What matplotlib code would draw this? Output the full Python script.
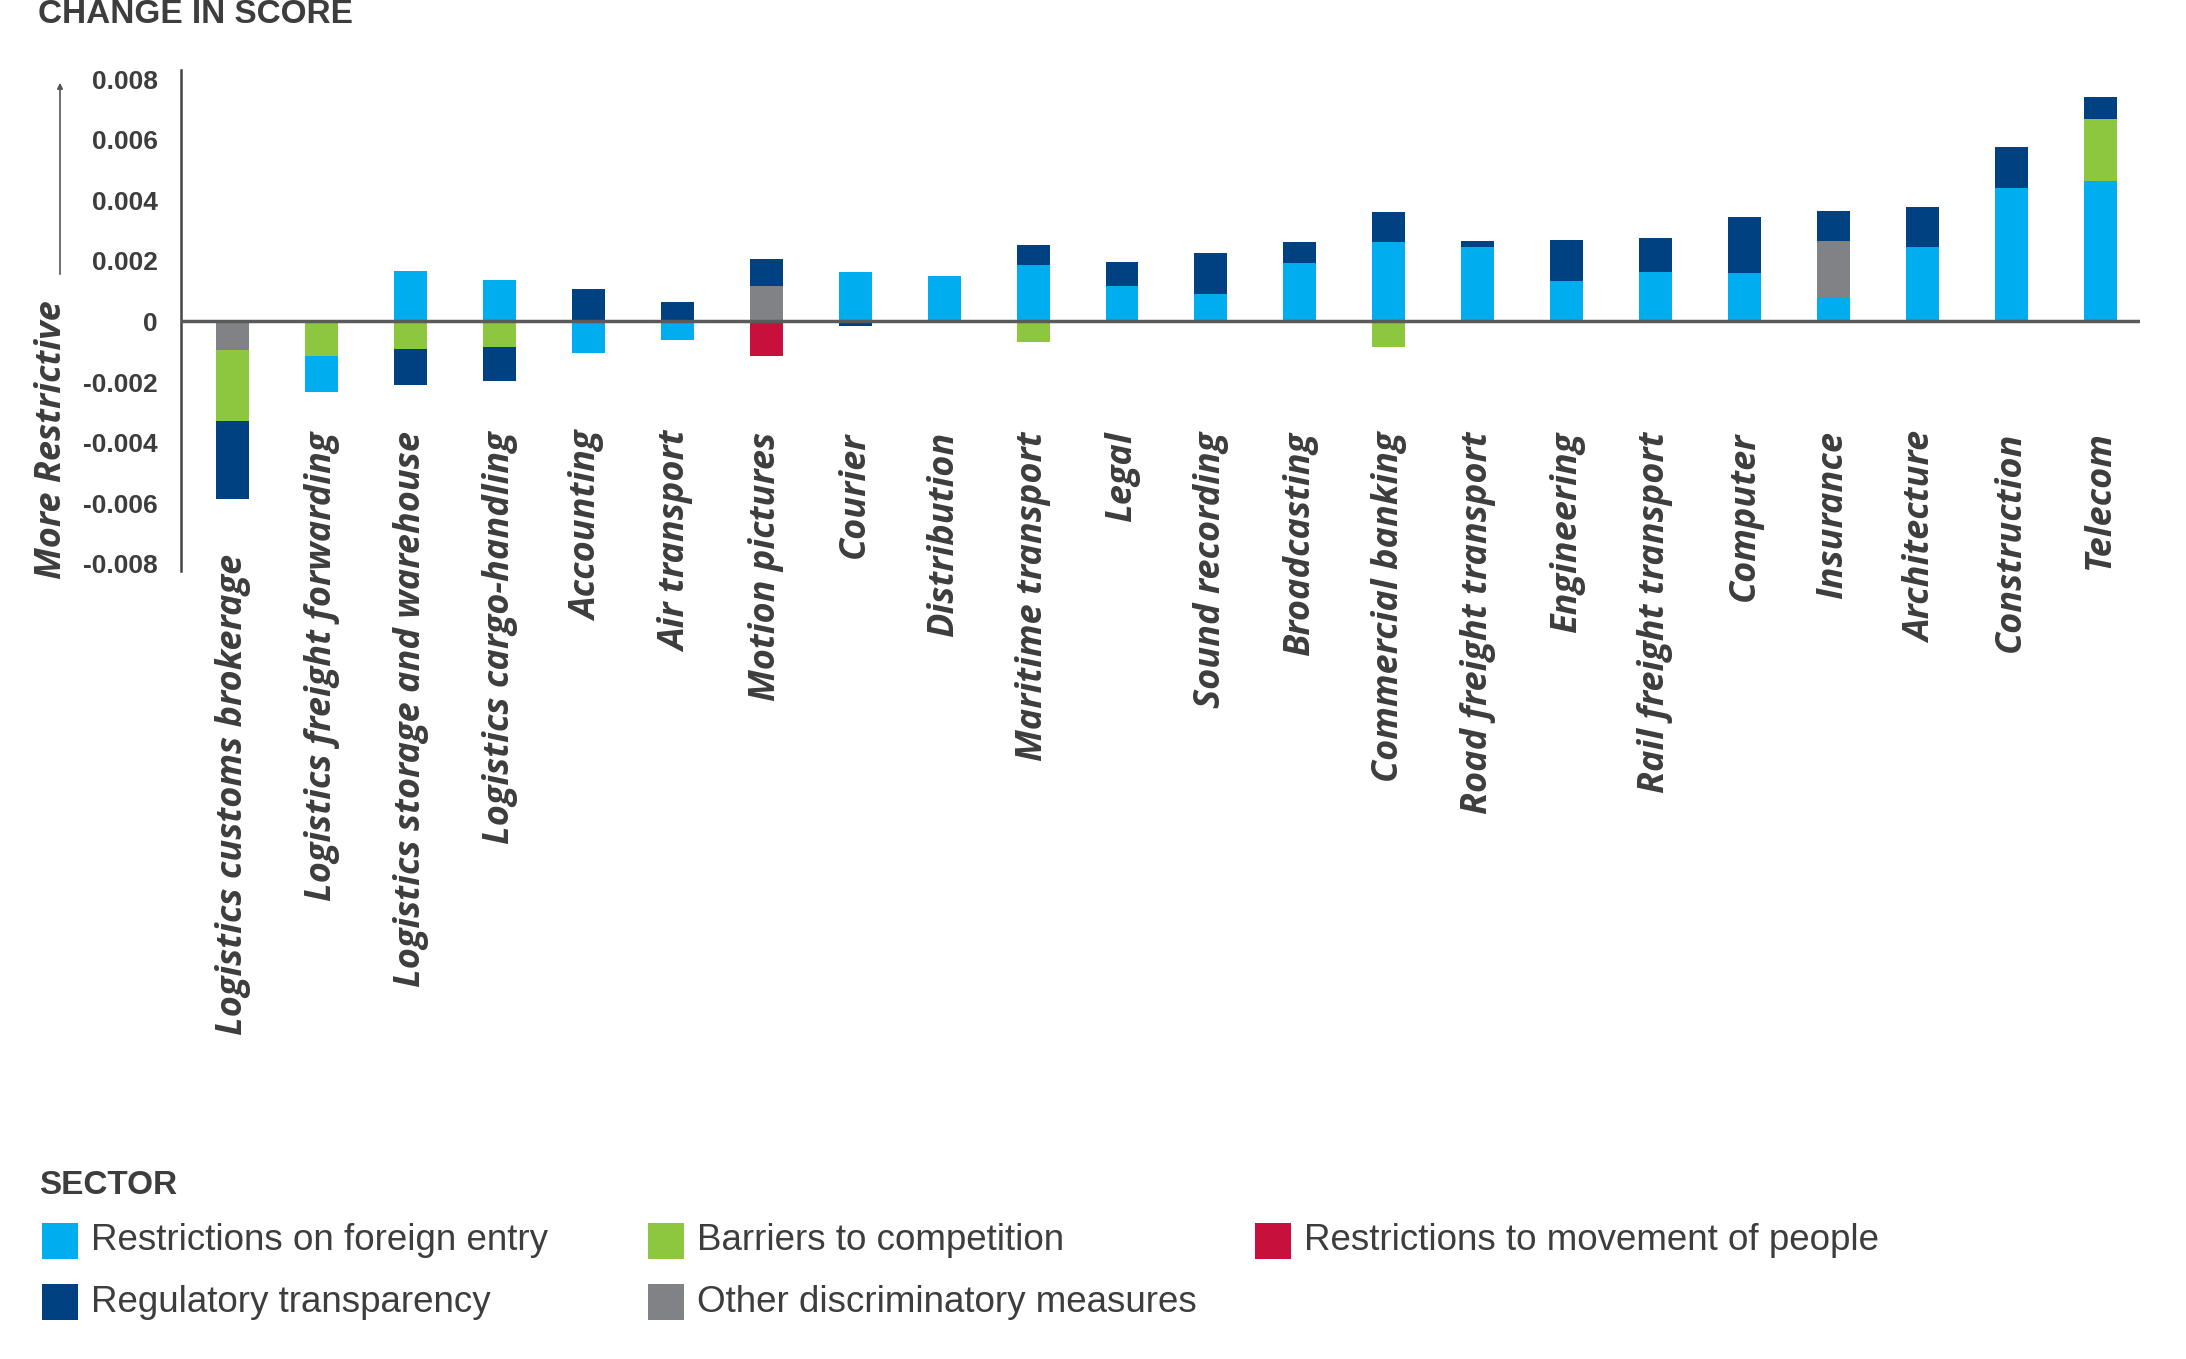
import matplotlib.pyplot as plt
from matplotlib.patches import Rectangle, FancyArrowPatch

# sectors, left to right
sectors = ['Logistics customs brokerage', 'Logistics freight forwarding',
           'Logistics storage and warehouse', 'Logistics cargo-handling',
           'Accounting', 'Air transport', 'Motion pictures', 'Courier',
           'Distribution', 'Maritime transport', 'Legal', 'Sound recording',
           'Broadcasting', 'Commercial banking', 'Road freight transport',
           'Engineering', 'Rail freight transport', 'Computer', 'Insurance',
           'Architecture', 'Construction', 'Telecom']

# change in score by policy area
foreign_entry = [0, -0.0012, 0.00166, 0.00138, -0.00103, -0.0006, 0, 0.00162,
                 0.0015, 0.00185, 0.00117, 0.0009, 0.00194, 0.00262, 0.00245,
                 0.00133, 0.00162, 0.0016, 0.00077, 0.00245, 0.00442, 0.00465]
barriers = [-0.00233, -0.00113, -0.0009, -0.00084, 0, 0, 0, 0, 0, -0.00067, 0,
            0, 0, -0.00084, 0, 0, 0, 0, 0, 0, 0, 0.00203]
other_discrim = [-0.00094, 0, 0, 0, 0, 0, 0.00117, 0, 0, 0, 0, 0, 0, 0, 0, 0,
                 0, 0, 0.0019, 0, 0, 0]
movement = [0, 0, 0, 0, 0, 0, -0.00113, 0, 0, 0, 0, 0, 0, 0, 0, 0, 0, 0, 0, 0,
            0, 0]
regulatory = [-0.0026, 0, -0.0012, -0.00112, 0.00107, 0.00063, 0.00088,
              -0.00015, 0, 0.00067, 0.0008, 0.00136, 0.00068, 0.00098, 0.00019,
              0.00136, 0.00114, 0.00186, 0.00097, 0.00133, 0.00135, 0.00073]

series = {
    'Restrictions on foreign entry': (foreign_entry, '#00aeef'),
    'Barriers to competition': (barriers, '#8dc63f'),
    'Restrictions to movement of people': (movement, '#c8103c'),
    'Regulatory transparency': (regulatory, '#004182'),
    'Other discriminatory measures': (other_discrim, '#808285'),
}
# stacking order away from zero
pos_order = ['Restrictions on foreign entry', 'Barriers to competition',
             'Other discriminatory measures', 'Restrictions to movement of people',
             'Regulatory transparency']
neg_order = ['Other discriminatory measures', 'Restrictions to movement of people',
             'Barriers to competition', 'Restrictions on foreign entry',
             'Regulatory transparency']

ticks = [0.008, 0.006, 0.004, 0.002, 0, -0.002, -0.004, -0.006, -0.008]

txt = '#3d3d3d'
label_font = ['Open Sans', 'DejaVu Sans']
plain_font = ['Liberation Sans', 'DejaVu Sans']

fig = plt.figure(figsize=(21.86, 13.59), dpi=100)
ax = fig.add_axes([0.0829, 0.5795, 0.979 - 0.0829, 0.9485 - 0.5795])

n = len(sectors)
x = list(range(n))
w = 0.37

pos_base = [0.0] * n
for name in pos_order:
    vals, col = series[name]
    h = [v if v > 0 else 0 for v in vals]
    ax.bar(x, h, w, bottom=pos_base, color=col, linewidth=0)
    pos_base = [b + v for b, v in zip(pos_base, h)]

neg_base = [0.0] * n
for name in neg_order:
    vals, col = series[name]
    h = [v if v < 0 else 0 for v in vals]
    ax.bar(x, h, w, bottom=neg_base, color=col, linewidth=0)
    neg_base = [b + v for b, v in zip(neg_base, h)]

ax.axhline(0, color='#5a5a5a', lw=2.5, zorder=3)
ax.set_xlim(-0.58, n - 1 + 0.45)
ax.set_ylim(-0.00825, 0.0083)
ax.set_yticks(ticks)
ax.set_yticklabels(['0' if t == 0 else '{:.3f}'.format(t) for t in ticks],
                   fontsize=19, fontweight='bold', color=txt, family=plain_font)
ax.tick_params(axis='y', length=0, pad=17)
ax.set_xticks([])
for s in ['top', 'right', 'bottom']:
    ax.spines[s].set_visible(False)
ax.spines['left'].set_color('#444444')
ax.spines['left'].set_linewidth(1.8)

# sector names hang below the axis
for i, name in enumerate(sectors):
    ytop = -0.00363 if i else neg_base[0] - 0.0018
    ax.text(i, ytop, name, rotation=90, ha='center', va='top', fontsize=26,
            fontweight='bold', style='italic', color=txt, family=label_font,
            clip_on=False)

W, H = 2186, 1359
fig.text(38 / W, 1 - 23 / H, 'CHANGE IN SCORE', fontsize=24, fontweight='bold',
         color=txt, family=plain_font, va='baseline')

fig.text(52 / W, 1 - 440 / H, 'More Restrictive', rotation=90, ha='center',
         va='center', fontsize=26, fontweight='bold', style='italic',
         color=txt, family=label_font)
fig.add_artist(FancyArrowPatch((60 / W, 1 - 277 / H), (60 / W, 1 - 80 / H),
                               transform=fig.transFigure, arrowstyle='-|>',
                               mutation_scale=8, color='#555555', lw=1.2))

# legend
fig.text(39 / W, 1 - 1185 / H, 'SECTOR', fontsize=24, fontweight='bold',
         color=txt, family=plain_font, va='center')
legend_slots = {
    'Restrictions on foreign entry': (42, 1241),
    'Barriers to competition': (648, 1241),
    'Restrictions to movement of people': (1255, 1241),
    'Regulatory transparency': (42, 1302),
    'Other discriminatory measures': (648, 1302),
}
for name, (px, py) in legend_slots.items():
    col = series[name][1]
    fig.add_artist(Rectangle((px / W, 1 - (py + 18) / H), 36 / W, 36 / H,
                             transform=fig.transFigure, color=col, lw=0))
    fig.text((px + 49) / W, 1 - py / H, name, fontsize=26.5, color=txt,
             family=plain_font, va='center')

fig.savefig('out.png', dpi=100)
